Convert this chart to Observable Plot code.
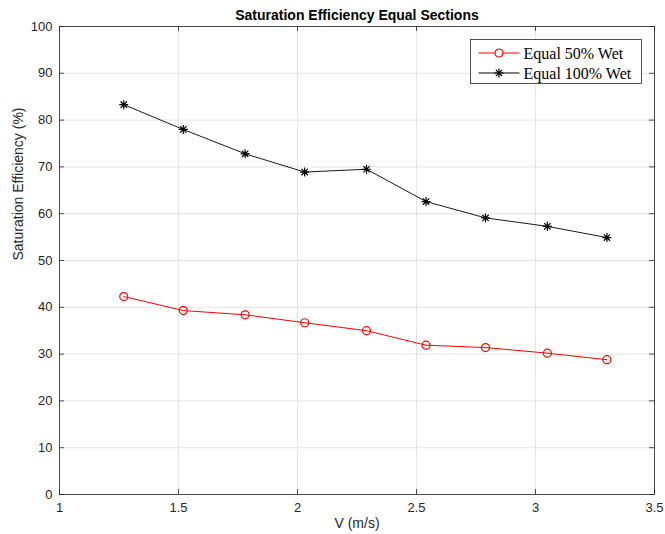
<!DOCTYPE html>
<html>
<head>
<meta charset="utf-8">
<script src="https://cdn.jsdelivr.net/npm/d3@7"></script>
<script src="https://cdn.jsdelivr.net/npm/@observablehq/plot@0.6"></script>
<style>
  html, body { margin: 0; padding: 0; background: #fff; }
  #chart { width: 665px; height: 534px; }
</style>
</head>
<body>
<div id="chart"></div>
<script>
// ---- data ----
const velocity = [1.27, 1.52, 1.78, 2.03, 2.29, 2.54, 2.79, 3.05, 3.30];
const wet50 = [42.3, 39.3, 38.4, 36.7, 35.0, 31.9, 31.4, 30.2, 28.8];
const wet100 = [83.3, 78.0, 72.8, 68.9, 69.5, 62.6, 59.1, 57.3, 54.9];
const seriesNames = ["Equal 50% Wet", "Equal 100% Wet"];
const xTicks = [1, 1.5, 2, 2.5, 3, 3.5];
const yTicks = [0, 10, 20, 30, 40, 50, 60, 70, 80, 90, 100];
const titleText = "Saturation Efficiency Equal Sections";
const xLabel = "V (m/s)";
const yLabel = "Saturation Efficiency (%)";

// ---- layout ----
const W = 665, H = 534;
const mL = 59, mR = 11, mT = 26, mB = 40;
const plotW = W - mL - mR, plotH = H - mT - mB;
const tickLen = 5;
const axisColor = "#262626";
const gridColor = "#e3e3e3";

const rows50 = velocity.map((v, i) => ({v, s: wet50[i]}));
const rows100 = velocity.map((v, i) => ({v, s: wet100[i]}));

// MATLAB-like '*' marker: plus + x (8 spokes)
const star = {
  draw(ctx, size) {
    const r = Math.sqrt(size / Math.PI);
    const d = r * Math.SQRT1_2;
    ctx.moveTo(-r, 0); ctx.lineTo(r, 0);
    ctx.moveTo(0, -r); ctx.lineTo(0, r);
    ctx.moveTo(-d, -d); ctx.lineTo(d, d);
    ctx.moveTo(-d, d); ctx.lineTo(d, -d);
  }
};

const chart = Plot.plot({
  width: W, height: H,
  marginLeft: mL, marginRight: mR, marginTop: mT, marginBottom: mB,
  style: {fontFamily: "'Liberation Sans', Arial, Helvetica, sans-serif", fontSize: "13px", color: axisColor, background: "#fff"},
  x: {domain: [1, 3.5], axis: null},
  y: {domain: [0, 100], axis: null},
  marks: [
    Plot.gridX(xTicks, {stroke: gridColor, strokeOpacity: 1}),
    Plot.gridY(yTicks, {stroke: gridColor, strokeOpacity: 1}),
    // inward ticks on all four sides
    Plot.ruleY(yTicks, {y: d => d, insetRight: plotW - tickLen, stroke: axisColor, strokeWidth: 0.8}),
    Plot.ruleY(yTicks, {y: d => d, insetLeft: plotW - tickLen, stroke: axisColor, strokeWidth: 0.8}),
    Plot.ruleX(xTicks, {x: d => d, insetTop: plotH - tickLen, stroke: axisColor, strokeWidth: 0.8}),
    Plot.ruleX(xTicks, {x: d => d, insetBottom: plotH - tickLen, stroke: axisColor, strokeWidth: 0.8}),
    Plot.frame({stroke: axisColor, strokeWidth: 0.8}),
    Plot.axisX(xTicks, {tickSize: 0, tickPadding: 8, label: null, fontSize: 13, tickFormat: d => String(d)}),
    Plot.axisY(yTicks, {tickSize: 0, tickPadding: 7, label: null, fontSize: 13, tickFormat: d => String(d)}),
    // series
    Plot.line(rows50, {x: "v", y: "s", stroke: "#ff0000", strokeWidth: 1}),
    Plot.dot(rows50, {x: "v", y: "s", r: 4, stroke: "#ff0000", strokeWidth: 1.2, fill: "none"}),
    Plot.line(rows100, {x: "v", y: "s", stroke: "#1a1a1a", strokeWidth: 1}),
    Plot.dot(rows100, {x: "v", y: "s", r: 4.5, symbol: star, stroke: "#000", strokeWidth: 1.2, fill: "none"}),
    // texts
    Plot.text([titleText], {text: d => d, frameAnchor: "top", dy: -11, lineAnchor: "middle", fontWeight: "bold", fontSize: 14, fill: "#000"}),
    Plot.text([xLabel], {text: d => d, frameAnchor: "bottom", dy: 29, lineAnchor: "middle", fontSize: 14, fill: axisColor}),
    Plot.text([yLabel], {text: d => d, frameAnchor: "left", dx: -41, rotate: -90, lineAnchor: "middle", fontSize: 14, fill: axisColor})
  ]
});

document.getElementById("chart").appendChild(chart);

// ---- legend ----
const svg = d3.select(chart);
const lg = svg.append("g").attr("transform", "translate(470.5,39.5)").attr("text-anchor", "start");
lg.append("rect").attr("width", 171).attr("height", 44)
  .attr("fill", "#fff").attr("stroke", axisColor).attr("stroke-width", 0.8);
const legendStyles = [
  {color: "#ff0000", sym: d3.symbol(d3.symbolCircle, Math.PI * 16)},
  {color: "#000", sym: d3.symbol(star, Math.PI * 4.5 * 4.5)}
];
seriesNames.forEach((name, i) => {
  const y = 13.5 + i * 20;
  const row = lg.append("g").attr("transform", `translate(0,${y})`);
  row.append("line").attr("x1", 8).attr("x2", 49).attr("y1", 0).attr("y2", 0)
    .attr("stroke", legendStyles[i].color).attr("stroke-width", 1);
  row.append("path").attr("d", legendStyles[i].sym()).attr("transform", "translate(28.5,0)")
    .attr("fill", i === 0 ? "#fff" : "none").attr("stroke", legendStyles[i].color).attr("stroke-width", 1.2);
  row.append("text").attr("x", 53).attr("y", 0).attr("dy", "0.35em")
    .attr("text-anchor", "start")
    .attr("font-family", "'Liberation Serif', 'Times New Roman', serif")
    .attr("font-size", 16).attr("fill", "#000").text(name);
});
</script>
</body>
</html>
